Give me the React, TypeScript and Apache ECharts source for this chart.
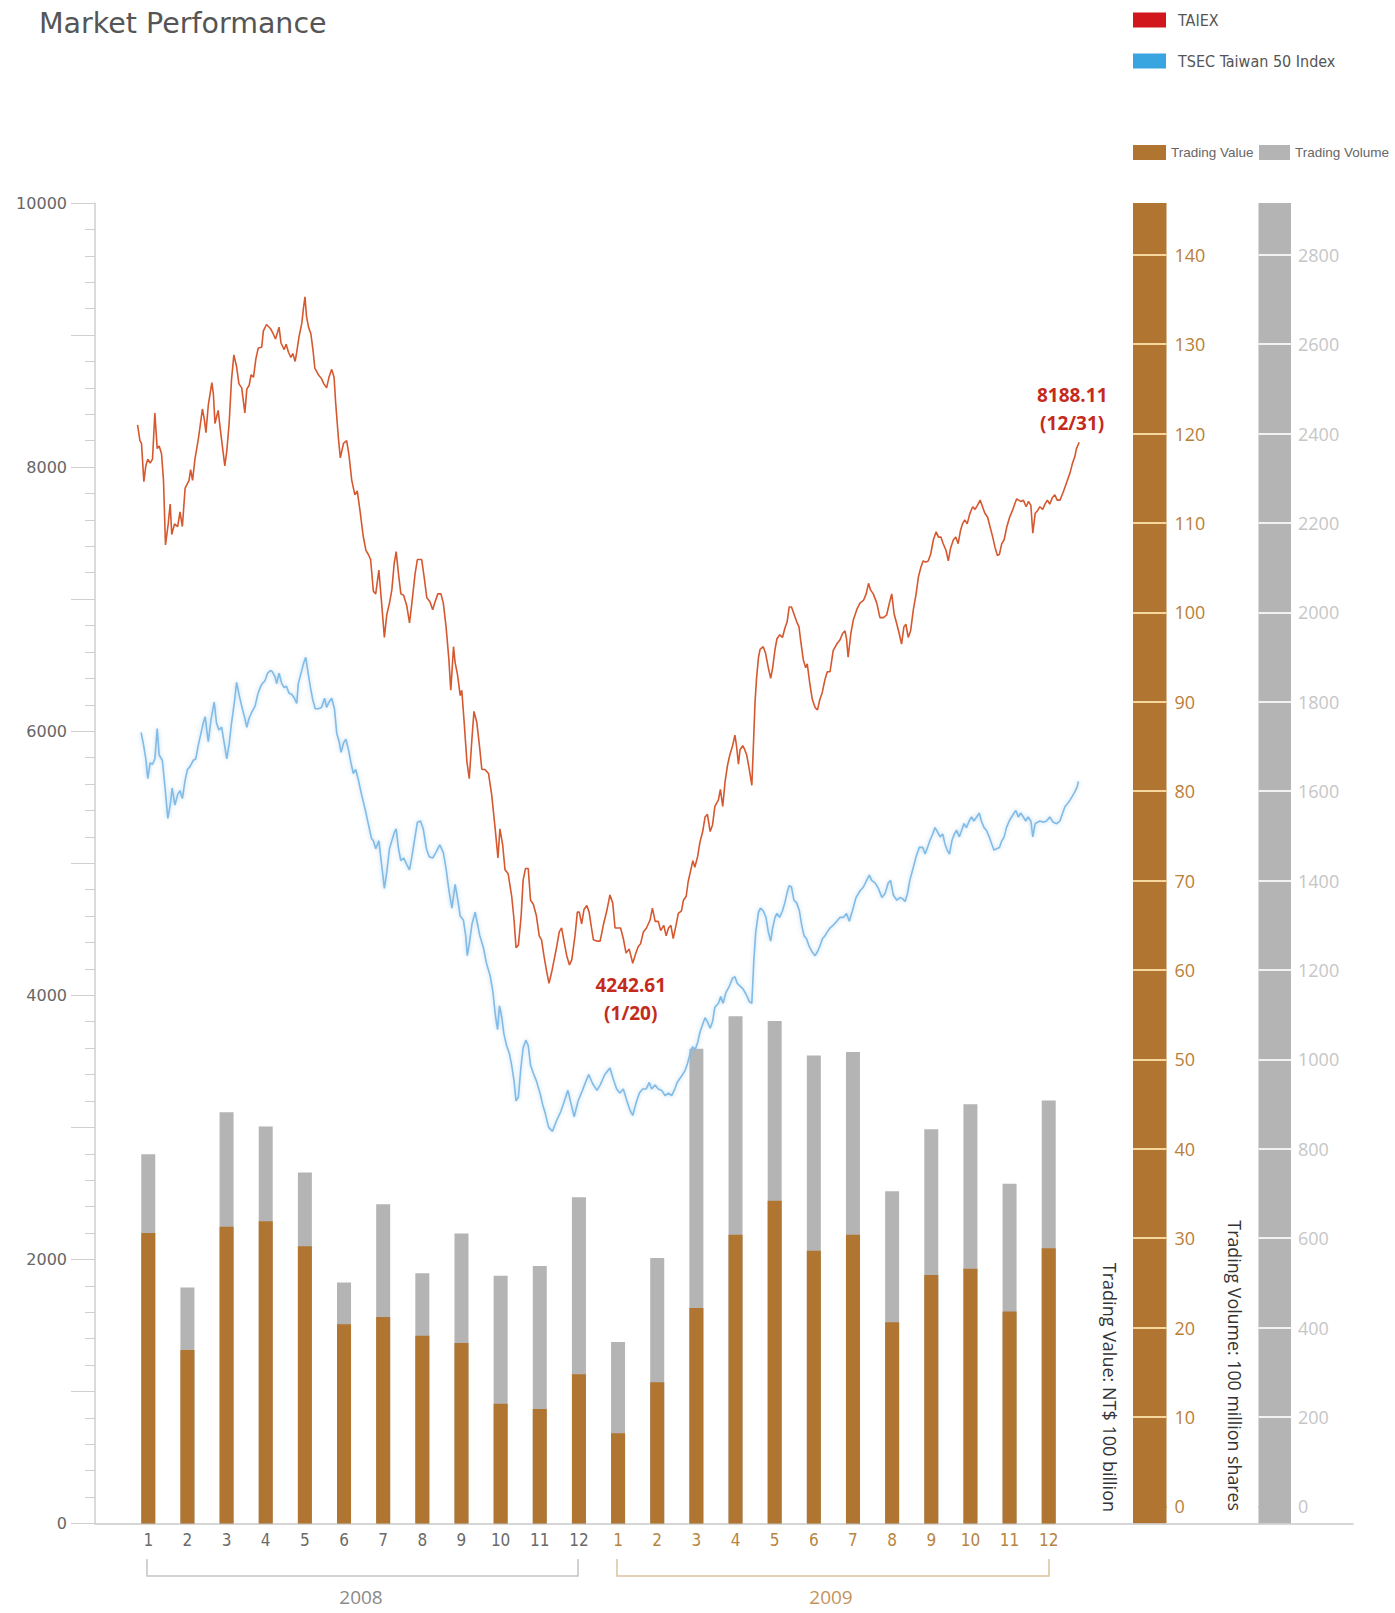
import React, { useEffect, useRef } from "react";
import * as echarts from "echarts";

// ---------- data ----------
const months: string[] = [
  "2008-1", "2008-2", "2008-3", "2008-4", "2008-5", "2008-6", "2008-7", "2008-8", "2008-9", "2008-10", "2008-11", "2008-12",
  "2009-1", "2009-2", "2009-3", "2009-4", "2009-5", "2009-6", "2009-7", "2009-8", "2009-9", "2009-10", "2009-11", "2009-12",
];

// Trading Value (NT$ 100 billion)
const tradingValue: number[] = [
  32.5, 19.4, 33.2, 33.8, 31.0, 22.3, 23.1, 21.0, 20.2, 13.4, 12.8, 16.7,
  10.1, 15.8, 24.1, 32.3, 36.1, 30.5, 32.3, 22.5, 27.8, 28.5, 23.7, 30.8,
];

// Trading Volume (100 million shares)
const tradingVolume: number[] = [
  826, 528, 920, 888, 785, 539, 714, 560, 649, 554, 576, 730,
  406, 594, 1062, 1135, 1124, 1047, 1055, 743, 882, 938, 760, 946,
];

// [month position since 2008-01-01, index level]
const taiex: [number, number][] = [
  [0.04, 8320], [0.10, 8200], [0.14, 8180], [0.20, 7890], [0.25, 8010], [0.30, 8060], [0.36, 8030], [0.42, 8060],
  [0.48, 8410], [0.54, 8140], [0.59, 8160], [0.65, 8100], [0.70, 7900], [0.75, 7410], [0.82, 7570], [0.87, 7720],
  [0.91, 7490], [0.98, 7570], [1.06, 7550], [1.12, 7660], [1.18, 7550], [1.25, 7840], [1.35, 7900], [1.39, 7980],
  [1.44, 7900], [1.50, 8060], [1.59, 8220], [1.69, 8440], [1.74, 8360], [1.78, 8260], [1.84, 8470], [1.93, 8640],
  [1.97, 8550], [2.01, 8330], [2.09, 8430], [2.16, 8250], [2.26, 8010], [2.31, 8120], [2.37, 8330], [2.43, 8660],
  [2.49, 8850], [2.56, 8760], [2.62, 8630], [2.69, 8600], [2.77, 8410], [2.82, 8590], [2.88, 8620], [2.93, 8700],
  [2.99, 8680], [3.05, 8820], [3.11, 8900], [3.20, 8910], [3.24, 9030], [3.32, 9080], [3.42, 9050], [3.49, 9010],
  [3.55, 8970], [3.64, 9060], [3.69, 8940], [3.77, 8890], [3.82, 8930], [3.88, 8870], [3.94, 8830], [3.99, 8860],
  [4.05, 8800], [4.09, 8870], [4.15, 8990], [4.22, 9090], [4.26, 9200], [4.30, 9290], [4.34, 9140], [4.39, 9060],
  [4.45, 9010], [4.51, 8870], [4.55, 8750], [4.64, 8700], [4.72, 8670], [4.78, 8630], [4.85, 8600], [4.91, 8680],
  [4.98, 8740], [5.04, 8680], [5.08, 8490], [5.15, 8220], [5.20, 8070], [5.28, 8180], [5.36, 8200], [5.42, 8090],
  [5.49, 7900], [5.57, 7790], [5.63, 7820], [5.70, 7670], [5.78, 7480], [5.85, 7370], [5.91, 7340], [5.97, 7300],
  [6.04, 7060], [6.10, 7040], [6.18, 7220], [6.25, 6970], [6.32, 6710], [6.38, 6880], [6.45, 6970], [6.51, 7070],
  [6.57, 7270], [6.62, 7360], [6.68, 7190], [6.74, 7040], [6.81, 7030], [6.89, 6950], [6.96, 6820], [7.02, 6970],
  [7.10, 7190], [7.16, 7300], [7.27, 7300], [7.34, 7150], [7.40, 7010], [7.48, 6980], [7.55, 6920], [7.61, 6980],
  [7.68, 7040], [7.76, 7040], [7.82, 6970], [7.89, 6790], [7.96, 6550], [8.01, 6310], [8.08, 6640], [8.12, 6520],
  [8.18, 6430], [8.25, 6270], [8.29, 6310], [8.35, 6070], [8.42, 5770], [8.48, 5640], [8.55, 5950], [8.60, 6150],
  [8.67, 6070], [8.74, 5890], [8.80, 5710], [8.88, 5710], [8.97, 5680], [9.05, 5520], [9.14, 5260], [9.21, 5040],
  [9.26, 5260], [9.33, 5140], [9.39, 4950], [9.47, 4920], [9.56, 4750], [9.62, 4570], [9.67, 4360], [9.73, 4380],
  [9.80, 4600], [9.85, 4870], [9.91, 4960], [9.98, 4960], [10.04, 4720], [10.11, 4690], [10.19, 4600], [10.26, 4450],
  [10.32, 4420], [10.38, 4300], [10.45, 4180], [10.51, 4090], [10.58, 4180], [10.64, 4270], [10.70, 4360], [10.77, 4480],
  [10.83, 4510], [10.89, 4410], [10.96, 4300], [11.03, 4230], [11.09, 4270], [11.17, 4450], [11.23, 4630], [11.28, 4630],
  [11.34, 4540], [11.40, 4650], [11.47, 4680], [11.53, 4630], [11.59, 4510], [11.64, 4420], [11.74, 4410], [11.81, 4410],
  [11.89, 4530], [11.98, 4640], [12.06, 4760], [12.13, 4700], [12.19, 4510], [12.27, 4510], [12.33, 4510], [12.40, 4430],
  [12.47, 4320], [12.55, 4350], [12.64, 4243], [12.72, 4320], [12.78, 4370], [12.84, 4390], [12.91, 4480], [12.99, 4510],
  [13.08, 4570], [13.14, 4660], [13.21, 4560], [13.29, 4560], [13.35, 4490], [13.43, 4530], [13.49, 4450], [13.55, 4510],
  [13.61, 4530], [13.67, 4430], [13.74, 4530], [13.80, 4620], [13.88, 4640], [13.93, 4720], [14.00, 4750], [14.05, 4860],
  [14.11, 4940], [14.17, 5020], [14.22, 4970], [14.29, 5050], [14.35, 5160], [14.42, 5240], [14.48, 5350], [14.54, 5370],
  [14.61, 5240], [14.67, 5290], [14.73, 5430], [14.82, 5480], [14.87, 5560], [14.93, 5430], [14.99, 5620], [15.05, 5740],
  [15.11, 5820], [15.18, 5890], [15.24, 5970], [15.28, 5890], [15.33, 5750], [15.37, 5860], [15.44, 5890], [15.49, 5860],
  [15.54, 5820], [15.60, 5720], [15.67, 5590], [15.71, 5890], [15.75, 6210], [15.79, 6400], [15.84, 6560], [15.88, 6620],
  [15.96, 6640], [16.02, 6590], [16.09, 6480], [16.15, 6400], [16.20, 6480], [16.26, 6620], [16.31, 6700], [16.38, 6730],
  [16.45, 6710], [16.51, 6780], [16.57, 6830], [16.62, 6940], [16.68, 6940], [16.74, 6890], [16.81, 6830], [16.87, 6790],
  [16.92, 6670], [16.98, 6540], [17.04, 6480], [17.08, 6510], [17.15, 6350], [17.21, 6240], [17.28, 6180], [17.34, 6160],
  [17.40, 6240], [17.46, 6290], [17.53, 6390], [17.59, 6450], [17.66, 6450], [17.74, 6610], [17.83, 6660], [17.91, 6690],
  [17.98, 6740], [18.04, 6760], [18.08, 6700], [18.12, 6560], [18.19, 6740], [18.25, 6840], [18.34, 6920], [18.42, 6970],
  [18.51, 6990], [18.58, 7040], [18.64, 7120], [18.69, 7070], [18.76, 7040], [18.85, 6970], [18.93, 6860], [19.02, 6860],
  [19.10, 6880], [19.17, 6970], [19.23, 7040], [19.29, 6890], [19.36, 6810], [19.42, 6740], [19.48, 6660], [19.54, 6790],
  [19.59, 6810], [19.65, 6710], [19.71, 6760], [19.78, 6920], [19.85, 7040], [19.91, 7170], [19.97, 7240], [20.03, 7290],
  [20.10, 7280], [20.16, 7290], [20.22, 7340], [20.29, 7450], [20.36, 7510], [20.42, 7470], [20.48, 7470], [20.54, 7420],
  [20.61, 7370], [20.67, 7290], [20.73, 7390], [20.80, 7450], [20.86, 7470], [20.92, 7420], [20.98, 7520], [21.03, 7570],
  [21.09, 7600], [21.15, 7570], [21.22, 7650], [21.29, 7700], [21.35, 7680], [21.41, 7710], [21.48, 7750], [21.54, 7700],
  [21.60, 7650], [21.67, 7620], [21.73, 7550], [21.80, 7470], [21.86, 7390], [21.92, 7330], [21.97, 7340], [22.03, 7420],
  [22.09, 7450], [22.16, 7550], [22.23, 7620], [22.30, 7670], [22.36, 7720], [22.41, 7760], [22.46, 7750], [22.52, 7740],
  [22.58, 7750], [22.65, 7700], [22.71, 7740], [22.77, 7710], [22.82, 7500], [22.88, 7650], [22.94, 7670], [23.00, 7700],
  [23.07, 7680], [23.13, 7720], [23.19, 7750], [23.25, 7720], [23.32, 7770], [23.38, 7790], [23.44, 7750], [23.51, 7750],
  [23.58, 7800], [23.64, 7850], [23.70, 7900], [23.77, 7960], [23.83, 8030], [23.89, 8080], [23.93, 8140], [24.00, 8188.11],
];

const tsec50: [number, number][] = [
  [0.13, 5990], [0.19, 5900], [0.25, 5790], [0.30, 5640], [0.36, 5760], [0.42, 5750], [0.48, 5790], [0.54, 6020],
  [0.59, 5820], [0.67, 5780], [0.74, 5570], [0.81, 5340], [0.87, 5440], [0.92, 5570], [0.99, 5440], [1.06, 5520],
  [1.12, 5550], [1.18, 5490], [1.25, 5630], [1.31, 5710], [1.37, 5730], [1.46, 5780], [1.52, 5790], [1.59, 5900],
  [1.65, 5980], [1.71, 6060], [1.76, 6110], [1.80, 6010], [1.84, 5920], [1.91, 6090], [1.99, 6220], [2.05, 6060],
  [2.11, 6010], [2.18, 6030], [2.25, 5900], [2.31, 5790], [2.37, 5900], [2.43, 6060], [2.50, 6210], [2.56, 6370],
  [2.62, 6280], [2.69, 6190], [2.76, 6110], [2.82, 6030], [2.88, 6100], [2.94, 6140], [3.03, 6190], [3.10, 6280],
  [3.16, 6330], [3.21, 6360], [3.28, 6380], [3.35, 6440], [3.42, 6460], [3.47, 6450], [3.54, 6410], [3.58, 6360],
  [3.64, 6440], [3.71, 6360], [3.77, 6330], [3.83, 6340], [3.89, 6290], [3.96, 6280], [4.03, 6250], [4.09, 6210],
  [4.13, 6360], [4.20, 6440], [4.26, 6510], [4.32, 6560], [4.38, 6440], [4.44, 6330], [4.49, 6250], [4.56, 6170],
  [4.64, 6170], [4.72, 6180], [4.80, 6250], [4.85, 6180], [4.91, 6220], [4.98, 6250], [5.05, 6170], [5.11, 5980],
  [5.17, 5920], [5.22, 5840], [5.28, 5910], [5.34, 5940], [5.40, 5870], [5.47, 5760], [5.53, 5680], [5.59, 5710],
  [5.66, 5630], [5.74, 5520], [5.83, 5410], [5.91, 5300], [5.99, 5190], [6.04, 5170], [6.10, 5110], [6.18, 5170],
  [6.25, 4990], [6.32, 4810], [6.38, 4930], [6.45, 5110], [6.51, 5170], [6.57, 5230], [6.62, 5260], [6.68, 5110],
  [6.74, 5020], [6.81, 5040], [6.89, 4990], [6.96, 4950], [7.02, 5050], [7.10, 5200], [7.16, 5310], [7.24, 5320],
  [7.31, 5260], [7.39, 5110], [7.46, 5050], [7.55, 5040], [7.63, 5080], [7.73, 5140], [7.82, 5080], [7.89, 4960],
  [7.97, 4780], [8.04, 4660], [8.12, 4840], [8.19, 4720], [8.25, 4600], [8.33, 4570], [8.39, 4450], [8.43, 4300],
  [8.48, 4390], [8.55, 4540], [8.63, 4630], [8.69, 4540], [8.75, 4450], [8.84, 4360], [8.92, 4240], [9.01, 4150],
  [9.08, 4030], [9.14, 3860], [9.20, 3740], [9.25, 3920], [9.31, 3830], [9.36, 3710], [9.43, 3620], [9.50, 3560],
  [9.56, 3470], [9.62, 3350], [9.67, 3200], [9.73, 3230], [9.79, 3440], [9.85, 3600], [9.92, 3660], [9.98, 3620],
  [10.04, 3470], [10.11, 3410], [10.19, 3350], [10.28, 3260], [10.35, 3170], [10.41, 3110], [10.50, 3000], [10.60, 2970],
  [10.70, 3050], [10.81, 3120], [10.90, 3200], [10.99, 3280], [11.07, 3180], [11.15, 3080], [11.25, 3200], [11.36, 3280],
  [11.45, 3350], [11.52, 3400], [11.62, 3330], [11.73, 3280], [11.81, 3320], [11.93, 3400], [12.06, 3450], [12.14, 3370],
  [12.23, 3290], [12.31, 3260], [12.40, 3290], [12.48, 3210], [12.57, 3130], [12.64, 3090], [12.72, 3180], [12.81, 3260],
  [12.89, 3290], [12.98, 3290], [13.06, 3340], [13.12, 3290], [13.21, 3320], [13.29, 3290], [13.38, 3280], [13.46, 3240],
  [13.55, 3260], [13.63, 3240], [13.71, 3290], [13.77, 3340], [13.84, 3370], [13.91, 3400], [13.97, 3430], [14.03, 3480],
  [14.10, 3560], [14.16, 3610], [14.23, 3590], [14.29, 3640], [14.35, 3720], [14.42, 3780], [14.48, 3830], [14.54, 3800],
  [14.61, 3750], [14.67, 3800], [14.73, 3910], [14.82, 3940], [14.88, 3990], [14.94, 3940], [15.01, 4020], [15.10, 4070],
  [15.18, 4130], [15.24, 4140], [15.30, 4090], [15.37, 4070], [15.44, 4050], [15.52, 4010], [15.61, 3950], [15.67, 3940],
  [15.72, 4260], [15.77, 4480], [15.84, 4630], [15.89, 4660], [15.96, 4640], [16.03, 4590], [16.09, 4480], [16.15, 4410],
  [16.20, 4510], [16.26, 4590], [16.31, 4620], [16.38, 4590], [16.45, 4640], [16.51, 4700], [16.57, 4780], [16.62, 4830],
  [16.68, 4820], [16.74, 4720], [16.81, 4700], [16.88, 4640], [16.94, 4530], [17.00, 4450], [17.06, 4430], [17.13, 4370],
  [17.20, 4330], [17.28, 4300], [17.34, 4330], [17.40, 4370], [17.47, 4430], [17.53, 4450], [17.59, 4480], [17.66, 4510],
  [17.74, 4530], [17.83, 4560], [17.91, 4590], [18.00, 4590], [18.08, 4620], [18.15, 4560], [18.23, 4640], [18.32, 4740],
  [18.42, 4790], [18.51, 4820], [18.59, 4870], [18.66, 4910], [18.72, 4870], [18.81, 4850], [18.89, 4810], [18.98, 4740],
  [19.06, 4770], [19.14, 4850], [19.20, 4870], [19.27, 4760], [19.36, 4720], [19.44, 4740], [19.51, 4730], [19.57, 4710],
  [19.63, 4770], [19.69, 4870], [19.78, 4970], [19.85, 5050], [19.93, 5120], [20.02, 5120], [20.08, 5070], [20.14, 5120],
  [20.20, 5170], [20.27, 5220], [20.33, 5270], [20.39, 5240], [20.46, 5200], [20.53, 5220], [20.58, 5150], [20.64, 5100],
  [20.70, 5070], [20.76, 5170], [20.82, 5220], [20.88, 5250], [20.95, 5200], [21.01, 5250], [21.07, 5300], [21.13, 5270],
  [21.20, 5320], [21.26, 5350], [21.32, 5320], [21.39, 5350], [21.46, 5380], [21.51, 5320], [21.58, 5270], [21.64, 5250],
  [21.71, 5200], [21.77, 5150], [21.83, 5100], [21.90, 5110], [21.97, 5120], [22.03, 5170], [22.09, 5200], [22.15, 5270],
  [22.22, 5320], [22.28, 5350], [22.34, 5380], [22.39, 5400], [22.45, 5350], [22.51, 5380], [22.58, 5350], [22.64, 5320],
  [22.70, 5350], [22.77, 5320], [22.82, 5200], [22.88, 5300], [22.94, 5310], [23.00, 5320], [23.09, 5310], [23.17, 5320],
  [23.25, 5350], [23.34, 5310], [23.43, 5300], [23.51, 5320], [23.58, 5380], [23.64, 5430], [23.70, 5450], [23.77, 5480],
  [23.83, 5510], [23.89, 5540], [23.95, 5580], [23.98, 5620],
];

const yearLabels: string[] = ["2008", "2009"];

// ---------- styles ----------
const BROWN = "#b07530";
const GRAY = "#b4b4b4";
const RED_LINE = "#d6582f";
const BLUE_LINE = "#82bbe5";
const NARROW = "'Liberation Sans Narrow', 'DejaVu Sans Condensed', 'Roboto Condensed', 'Open Sans', sans-serif";
const ARIAL = "'Liberation Sans', Arial, sans-serif";
const WIDE = "'DejaVu Sans', 'Noto Sans', sans-serif";
const SANS = "'Open Sans', 'Noto Sans', sans-serif";

const TOP = 203;
const HEIGHT = 1320.5;

export default function App() {
  const ref = useRef<HTMLDivElement>(null);

  useEffect(() => {
    if (!ref.current) return;
    const chart = echarts.init(ref.current, null, { renderer: "svg" });

    const brownLines = [BROWN].concat(new Array(14).fill("#f4d79c"));
    const grayLines = [GRAY].concat(new Array(14).fill("#f2f2f2"));

    const option: any = {
      animation: false,
      backgroundColor: "#ffffff",
      title: {
        text: "Market Performance",
        left: 39,
        top: 9,
        padding: 0,
        textStyle: { fontFamily: WIDE, fontSize: 28.5, fontWeight: "normal", color: "#555555" },
      },
      legend: [
        {
          data: [{ name: "TAIEX", itemStyle: { color: "#d2161d" } }],
          left: 1133, top: 12, padding: 0, icon: "rect", itemWidth: 33, itemHeight: 15,
          textStyle: { fontFamily: NARROW, fontSize: 16, color: "#555", padding: [0, 0, 0, 7] },
        },
        {
          data: [{ name: "TSEC Taiwan 50 Index", itemStyle: { color: "#38a4e0" } }],
          left: 1133, top: 53, padding: 0, icon: "rect", itemWidth: 33, itemHeight: 15,
          textStyle: { fontFamily: NARROW, fontSize: 16, color: "#555", padding: [0, 0, 0, 7] },
        },
        {
          data: [{ name: "Trading Value", itemStyle: { color: BROWN } }],
          left: 1133, top: 145, padding: 0, icon: "rect", itemWidth: 33, itemHeight: 15,
          textStyle: { fontFamily: ARIAL, fontSize: 13.5, color: "#666" },
        },
        {
          data: [{ name: "Trading Volume", itemStyle: { color: GRAY } }],
          left: 1259, top: 145, padding: 0, icon: "rect", itemWidth: 31, itemHeight: 15,
          textStyle: { fontFamily: ARIAL, fontSize: 13.5, color: "#666" },
        },
      ],
      grid: [
        { left: 95, top: TOP, width: 1258, height: HEIGHT },
        { left: 128.7, top: TOP, width: 939.6, height: HEIGHT },
        { left: 1133, top: TOP, width: 33.5, height: HEIGHT, show: true, backgroundColor: BROWN, borderWidth: 0 },
        { left: 1258.5, top: TOP, width: 32.5, height: HEIGHT, show: true, backgroundColor: GRAY, borderWidth: 0 },
      ],
      xAxis: [
        {
          gridIndex: 0, type: "value", min: -1.043, max: 30.967,
          axisLine: { show: true, onZero: false, lineStyle: { color: "#c9c9c9", width: 1.5 } },
          axisTick: { show: false }, axisLabel: { show: false }, splitLine: { show: false },
        },
        {
          gridIndex: 1, type: "category", data: months,
          axisLine: { show: false }, axisTick: { show: false },
          axisLabel: {
            interval: 0, margin: 8, fontFamily: NARROW, fontSize: 17,
            formatter: (v: string) => v.split("-")[1],
            color: (v: string) => (v && v.indexOf("2009") === 0 ? "#b88440" : "#6a6a6a"),
          },
        },
        { gridIndex: 2, type: "value", show: false },
        { gridIndex: 3, type: "value", show: false },
      ],
      yAxis: [
        {
          gridIndex: 0, type: "value", min: 0, max: 10000, interval: 1000,
          axisLine: { show: true, onZero: false, lineStyle: { color: "#cfcfcf", width: 1.5 } },
          axisTick: { show: true, length: 24, lineStyle: { color: "#cfcfcf" } },
          minorTick: { show: true, splitNumber: 5, length: 10, lineStyle: { color: "#cfcfcf" } },
          axisLabel: {
            margin: 28, fontFamily: WIDE, fontSize: 16, color: "#666",
            formatter: (v: number) => (v % 2000 === 0 ? String(v) : ""),
          },
          splitLine: { show: false },
        },
        { gridIndex: 1, type: "value", min: 0, max: 147.7, show: false },
        { gridIndex: 1, type: "value", min: 0, max: 2954, show: false },
        {
          gridIndex: 2, type: "value", position: "right", min: -1.91, max: 145.8, splitNumber: 14,
          axisLine: { show: false, onZero: false }, axisTick: { show: false },
          axisLabel: {
            margin: 8, fontFamily: SANS, fontSize: 18, color: "#b98039",
            showMinLabel: false, showMaxLabel: false,
            formatter: (v: number) => (Math.abs(v % 10) < 1e-6 ? String(Math.round(v)) : ""),
          },
          splitLine: { show: true, showMinLine: false, showMaxLine: false, lineStyle: { color: brownLines, width: 2 } },
        },
        {
          gridIndex: 3, type: "value", position: "right", min: -38.2, max: 2916, splitNumber: 14,
          axisLine: { show: false, onZero: false }, axisTick: { show: false },
          axisLabel: {
            margin: 7, fontFamily: SANS, fontSize: 18, color: "#c6c6c6",
            showMinLabel: false, showMaxLabel: false,
            formatter: (v: number) => (Math.abs(v % 200) < 1e-6 ? String(Math.round(v)) : ""),
          },
          splitLine: { show: true, showMinLine: false, showMaxLine: false, lineStyle: { color: grayLines, width: 2 } },
        },
      ],
      series: [
        {
          name: "Trading Volume", type: "bar", xAxisIndex: 1, yAxisIndex: 2,
          data: tradingVolume, barWidth: 14, barGap: "-100%",
          itemStyle: { color: GRAY }, z: 2,
        },
        {
          name: "Trading Value", type: "bar", xAxisIndex: 1, yAxisIndex: 1,
          data: tradingValue, barWidth: 14, barGap: "-100%",
          itemStyle: { color: BROWN }, z: 2,
        },
        {
          name: "TSEC Taiwan 50 Index", type: "line", xAxisIndex: 0, yAxisIndex: 0,
          data: tsec50, showSymbol: false, symbol: "none", z: 3,
          lineStyle: { color: BLUE_LINE, width: 1.6, shadowColor: "rgba(130,187,229,0.6)", shadowBlur: 4 },
          itemStyle: { color: BLUE_LINE },
        },
        {
          name: "TAIEX", type: "line", xAxisIndex: 0, yAxisIndex: 0,
          data: taiex, showSymbol: false, symbol: "none", z: 4,
          lineStyle: { color: RED_LINE, width: 1.6 },
          itemStyle: { color: RED_LINE },
          markPoint: {
            symbol: "circle", symbolSize: 0, silent: true,
            label: {
              show: true, position: "inside", fontFamily: SANS, fontWeight: "bold",
              fontSize: 19, lineHeight: 28, color: "#c42b1c", align: "center",
            },
            data: [
              { coord: [12.64, 4242.61], label: { formatter: "4242.61\n(1/20)", offset: [-2, 36] } },
              { coord: [24, 8188.11], label: { formatter: "8188.11\n(12/31)", offset: [-7, -33] } },
            ],
          },
        },
      ],
      graphic: [
        {
          type: "text", x: 1110, y: 1512, rotation: -Math.PI / 2,
          style: {
            text: "Trading Value: NT$ 100 billion", fill: "#333", fontSize: 18, fontFamily: SANS,
            align: "right", verticalAlign: "middle", textAlign: "right", textVerticalAlign: "middle",
          },
        },
        {
          type: "text", x: 1235, y: 1511, rotation: -Math.PI / 2,
          style: {
            text: "Trading Volume: 100 million shares", fill: "#333", fontSize: 17.8, fontFamily: SANS,
            align: "right", verticalAlign: "middle", textAlign: "right", textVerticalAlign: "middle",
          },
        },
        {
          type: "polyline",
          shape: { points: [[147, 1559], [147, 1576], [578, 1576], [578, 1559]] },
          style: { stroke: "#c4c4c4", lineWidth: 1.5, fill: "none" },
        },
        {
          type: "polyline",
          shape: { points: [[617, 1559], [617, 1576], [1049, 1576], [1049, 1559]] },
          style: { stroke: "#dcc19c", lineWidth: 1.5, fill: "none" },
        },
        {
          type: "text", x: 361, y: 1597,
          style: {
            text: yearLabels[0], fill: "#8a8a8a", fontSize: 19, fontFamily: SANS,
            align: "center", verticalAlign: "middle", textAlign: "center", textVerticalAlign: "middle",
          },
        },
        {
          type: "text", x: 831, y: 1597,
          style: {
            text: yearLabels[1], fill: "#c4935c", fontSize: 19, fontFamily: SANS,
            align: "center", verticalAlign: "middle", textAlign: "center", textVerticalAlign: "middle",
          },
        },
      ],
    };

    chart.setOption(option);
    return () => chart.dispose();
  }, []);

  return (
    <div
      ref={ref}
      style={{ position: "absolute", left: 0, top: 0, width: 1395, height: 1613 }}
    />
  );
}
